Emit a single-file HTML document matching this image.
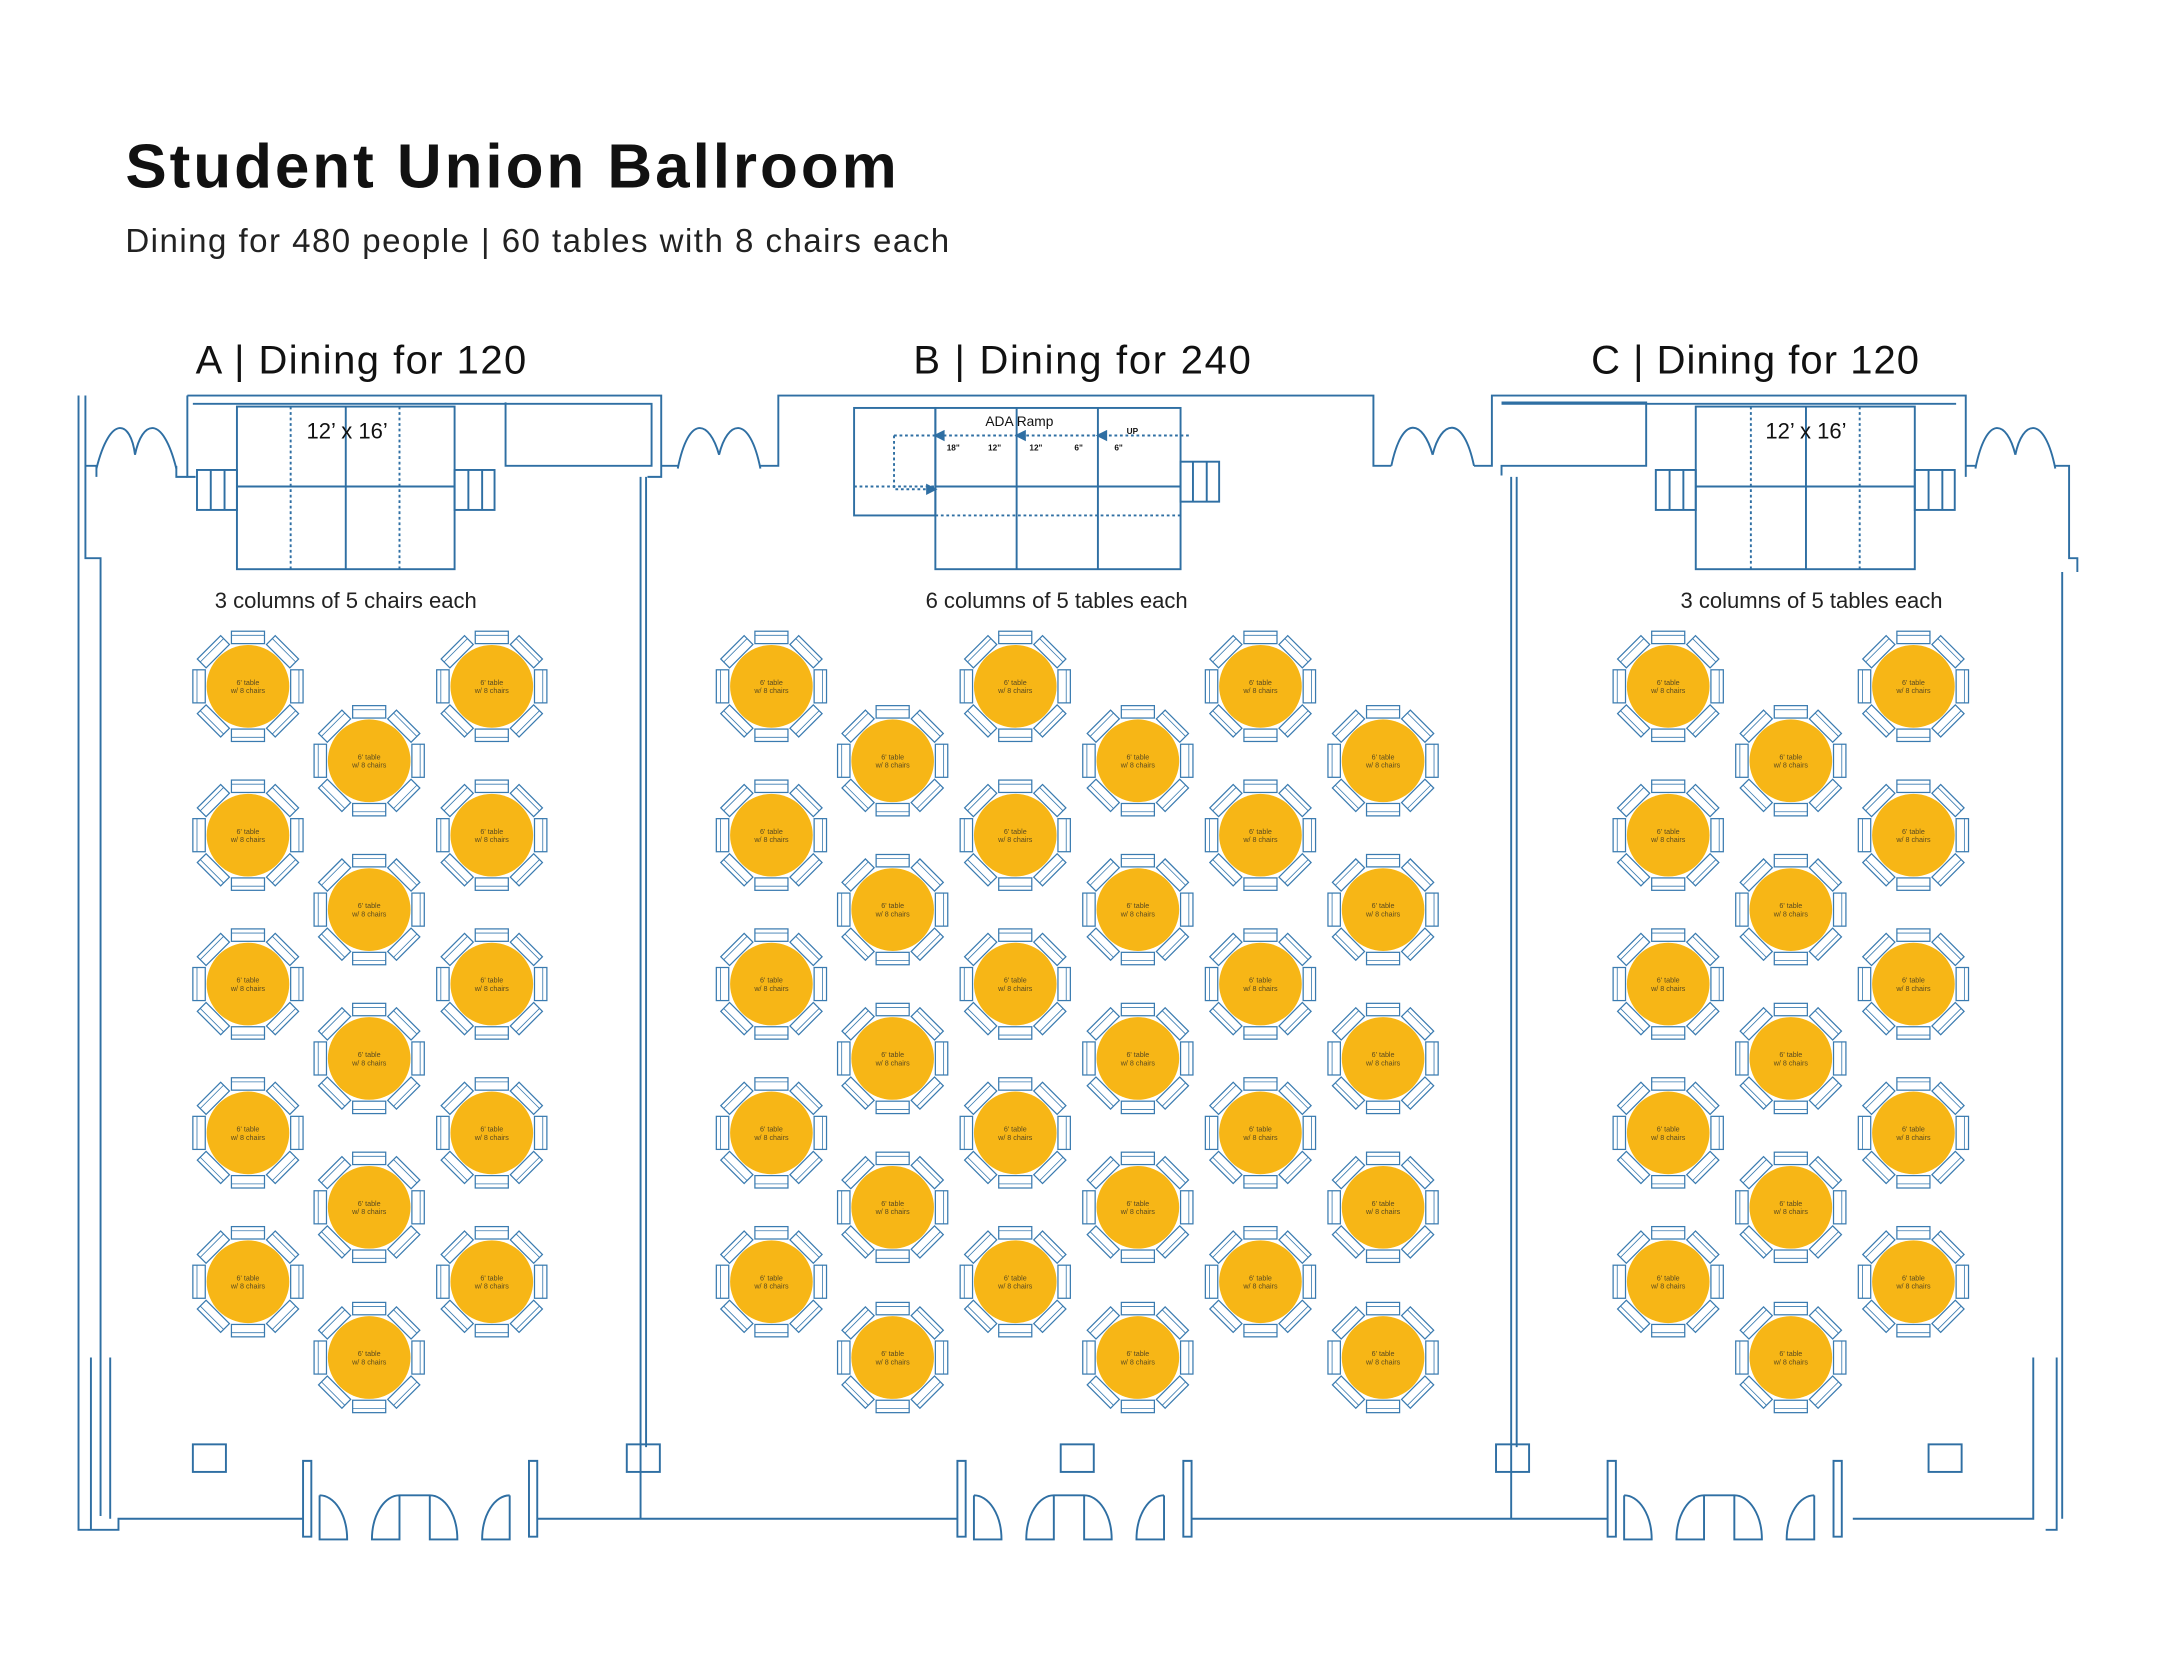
<!DOCTYPE html>
<html><head><meta charset="utf-8"><style>
html,body{margin:0;padding:0;background:#fff;}
svg{display:block;}
.w{fill:none;stroke:#2f6fa3;stroke-width:1.4;}
.t text{font-family:"Liberation Sans",sans-serif;font-size:5.2px;fill:#5a4a20;text-anchor:middle;}
</style></head><body>
<svg width="2160" height="1669" viewBox="0 0 1568 1211" preserveAspectRatio="none" xmlns="http://www.w3.org/2000/svg">
<defs>
<g id="ch"><rect x="-12" y="-40" width="24" height="9" fill="#fff" stroke="#3a7bb0" stroke-width="0.9"/><line x1="-12" y1="-37" x2="12" y2="-37" stroke="#3a7bb0" stroke-width="0.6"/></g>
<g id="tb">
<use href="#ch"/><use href="#ch" transform="rotate(45)"/><use href="#ch" transform="rotate(90)"/><use href="#ch" transform="rotate(135)"/>
<use href="#ch" transform="rotate(180)"/><use href="#ch" transform="rotate(225)"/><use href="#ch" transform="rotate(270)"/><use href="#ch" transform="rotate(315)"/>
<circle r="30" fill="#f7b616"/>
</g>
</defs>
<rect width="1568" height="1211" fill="#fff"/>
<text x="91" y="136" font-family="Liberation Sans,sans-serif" font-weight="bold" font-size="45" fill="#111" textLength="560">Student Union Ballroom</text>
<text x="91" y="183" font-family="Liberation Sans,sans-serif" font-size="24" fill="#222" textLength="598">Dining for 480 people | 60 tables with 8 chairs each</text>
<g font-family="Liberation Sans,sans-serif" font-size="29" fill="#111">
<text x="142" y="271" textLength="240">A | Dining for 120</text>
<text x="663" y="271" textLength="245">B | Dining for 240</text>
<text x="1155" y="271" textLength="238">C | Dining for 120</text>
</g>
<g font-family="Liberation Sans,sans-serif" font-size="16" fill="#222" text-anchor="middle">
<text x="251" y="441">3 columns of 5 chairs each</text>
<text x="767" y="441">6 columns of 5 tables each</text>
<text x="1315" y="441">3 columns of 5 tables each</text>
</g>
<g class="w">
<path d="M57 287 V1110 H86 V1102 H220"/>
<path d="M62 287 V405 H73 V1100"/>
<path d="M66 985 V1110 M80 985 V1102"/>
<path d="M62 338 H70 V346 M128 338 V346 H136"/>
<path d="M70 340 C80 300 95 305 98 330 M128 340 C118 300 103 305 98 330"/>
<path d="M136 287 H480 V346 H470 M140 293 H473 V338 H367 V292 M136 287 V346 H142"/>
<path d="M465 346 V1102"/><path d="M469 346 V1050"/>
<path d="M480 338 H492 M552 338 H565 V287 H997 V338 H1010"/>
<path d="M492 340 C500 300 515 305 522 330 M552 340 C544 300 528 305 522 330"/>
<path d="M1010 338 C1018 300 1033 305 1040 330 M1070 338 C1062 300 1046 305 1040 330"/>
<path d="M1070 338 H1083 V287 H1427 V346 M1090 293 H1420 M1090 292 H1195 V338 H1090 V345"/>
<path d="M1097 346 V1102 M1101 346 V1050"/>
<path d="M1427 338 H1434 M1492 338 H1502 V405 H1508 V415"/>
<path d="M1434 340 C1442 300 1457 305 1463 330 M1492 340 C1484 300 1468 305 1463 330"/>
<path d="M1497 415 V1102 M1493 985 V1110 H1485 M1476 985 V1102 H1345"/>
<path d="M390 1102 H695 M865 1102 H1167"/>
<path d="M220 1060 V1115 H226 V1060 Z M384 1060 V1115 H390 V1060 Z"/>
<path d="M232 1085 V1117 H252 A20 32 0 0 0 232 1085 M290 1085 V1117 H270 A20 32 0 0 1 290 1085 M290 1085 H312 M312 1085 V1117 H332 A20 32 0 0 0 312 1085 M370 1085 V1117 H350 A20 32 0 0 1 370 1085"/>
<path d="M695 1060 V1115 H701 V1060 Z M859 1060 V1115 H865 V1060 Z"/>
<path d="M707 1085 V1117 H727 A20 32 0 0 0 707 1085 M765 1085 V1117 H745 A20 32 0 0 1 765 1085 M765 1085 H787 M787 1085 V1117 H807 A20 32 0 0 0 787 1085 M845 1085 V1117 H825 A20 32 0 0 1 845 1085"/>
<path d="M1167 1060 V1115 H1173 V1060 Z M1331 1060 V1115 H1337 V1060 Z"/>
<path d="M1179 1085 V1117 H1199 A20 32 0 0 0 1179 1085 M1237 1085 V1117 H1217 A20 32 0 0 1 1237 1085 M1237 1085 H1259 M1259 1085 V1117 H1279 A20 32 0 0 0 1259 1085 M1317 1085 V1117 H1297 A20 32 0 0 1 1317 1085"/>
<rect x="140" y="1048" width="24" height="20"/><rect x="455" y="1048" width="24" height="20"/><rect x="770" y="1048" width="24" height="20"/><rect x="1086" y="1048" width="24" height="20"/><rect x="1400" y="1048" width="24" height="20"/>
<rect x="172" y="295" width="158" height="118"/><path d="M172 353 H330 M251 295 V413"/>
<path d="M211 295 V413 M290 295 V413" stroke-dasharray="2 2"/>
<rect x="143" y="341" width="29" height="29"/><path d="M153 341 V370 M163 341 V370"/>
<rect x="330" y="341" width="29" height="29"/><path d="M340 341 V370 M350 341 V370"/>
<rect x="620" y="296" width="59" height="78"/><rect x="679" y="296" width="178" height="117"/>
<path d="M738 296 V413 M797 296 V413 M679 353 H857"/>
<path d="M620 353 H679 M679 374 H857 M649 316 H865 M649 316 V355 H676" stroke-dasharray="2 2"/>
<path d="M679 316 l6 -3 v6z M738 316 l6 -3 v6z M797 316 l6 -3 v6z M679 355 l-6 -3 v6z" fill="#2f6fa3"/>
<rect x="857" y="335" width="28" height="29"/><path d="M866 335 V364 M876 335 V364"/>
<rect x="1231" y="295" width="159" height="118"/><path d="M1231 353 H1390 M1311 295 V413"/>
<path d="M1271 295 V413 M1350 295 V413" stroke-dasharray="2 2"/>
<rect x="1202" y="341" width="29" height="29"/><path d="M1212 341 V370 M1222 341 V370"/>
<rect x="1390" y="341" width="29" height="29"/><path d="M1400 341 V370 M1410 341 V370"/>
</g>
<g font-family="Liberation Sans,sans-serif" fill="#111" text-anchor="middle">
<text x="252" y="318" font-size="16">12’ x 16’</text>
<text x="1311" y="318" font-size="16">12’ x 16’</text>
<text x="740" y="309" font-size="10">ADA Ramp</text>
<g font-size="6" font-weight="bold"><text x="692" y="327">18"</text><text x="722" y="327">12"</text><text x="752" y="327">12"</text><text x="783" y="327">6"</text><text x="812" y="327">6"</text><text x="822" y="315">UP</text></g>
</g>
<g class="t">
<g transform="translate(180,498)"><use href="#tb"/><text y="-1">6' table</text><text y="5">w/ 8 chairs</text></g>
<g transform="translate(180,606)"><use href="#tb"/><text y="-1">6' table</text><text y="5">w/ 8 chairs</text></g>
<g transform="translate(180,714)"><use href="#tb"/><text y="-1">6' table</text><text y="5">w/ 8 chairs</text></g>
<g transform="translate(180,822)"><use href="#tb"/><text y="-1">6' table</text><text y="5">w/ 8 chairs</text></g>
<g transform="translate(180,930)"><use href="#tb"/><text y="-1">6' table</text><text y="5">w/ 8 chairs</text></g>
<g transform="translate(357,498)"><use href="#tb"/><text y="-1">6' table</text><text y="5">w/ 8 chairs</text></g>
<g transform="translate(357,606)"><use href="#tb"/><text y="-1">6' table</text><text y="5">w/ 8 chairs</text></g>
<g transform="translate(357,714)"><use href="#tb"/><text y="-1">6' table</text><text y="5">w/ 8 chairs</text></g>
<g transform="translate(357,822)"><use href="#tb"/><text y="-1">6' table</text><text y="5">w/ 8 chairs</text></g>
<g transform="translate(357,930)"><use href="#tb"/><text y="-1">6' table</text><text y="5">w/ 8 chairs</text></g>
<g transform="translate(268,552)"><use href="#tb"/><text y="-1">6' table</text><text y="5">w/ 8 chairs</text></g>
<g transform="translate(268,660)"><use href="#tb"/><text y="-1">6' table</text><text y="5">w/ 8 chairs</text></g>
<g transform="translate(268,768)"><use href="#tb"/><text y="-1">6' table</text><text y="5">w/ 8 chairs</text></g>
<g transform="translate(268,876)"><use href="#tb"/><text y="-1">6' table</text><text y="5">w/ 8 chairs</text></g>
<g transform="translate(268,985)"><use href="#tb"/><text y="-1">6' table</text><text y="5">w/ 8 chairs</text></g>
<g transform="translate(560,498)"><use href="#tb"/><text y="-1">6' table</text><text y="5">w/ 8 chairs</text></g>
<g transform="translate(560,606)"><use href="#tb"/><text y="-1">6' table</text><text y="5">w/ 8 chairs</text></g>
<g transform="translate(560,714)"><use href="#tb"/><text y="-1">6' table</text><text y="5">w/ 8 chairs</text></g>
<g transform="translate(560,822)"><use href="#tb"/><text y="-1">6' table</text><text y="5">w/ 8 chairs</text></g>
<g transform="translate(560,930)"><use href="#tb"/><text y="-1">6' table</text><text y="5">w/ 8 chairs</text></g>
<g transform="translate(737,498)"><use href="#tb"/><text y="-1">6' table</text><text y="5">w/ 8 chairs</text></g>
<g transform="translate(737,606)"><use href="#tb"/><text y="-1">6' table</text><text y="5">w/ 8 chairs</text></g>
<g transform="translate(737,714)"><use href="#tb"/><text y="-1">6' table</text><text y="5">w/ 8 chairs</text></g>
<g transform="translate(737,822)"><use href="#tb"/><text y="-1">6' table</text><text y="5">w/ 8 chairs</text></g>
<g transform="translate(737,930)"><use href="#tb"/><text y="-1">6' table</text><text y="5">w/ 8 chairs</text></g>
<g transform="translate(915,498)"><use href="#tb"/><text y="-1">6' table</text><text y="5">w/ 8 chairs</text></g>
<g transform="translate(915,606)"><use href="#tb"/><text y="-1">6' table</text><text y="5">w/ 8 chairs</text></g>
<g transform="translate(915,714)"><use href="#tb"/><text y="-1">6' table</text><text y="5">w/ 8 chairs</text></g>
<g transform="translate(915,822)"><use href="#tb"/><text y="-1">6' table</text><text y="5">w/ 8 chairs</text></g>
<g transform="translate(915,930)"><use href="#tb"/><text y="-1">6' table</text><text y="5">w/ 8 chairs</text></g>
<g transform="translate(648,552)"><use href="#tb"/><text y="-1">6' table</text><text y="5">w/ 8 chairs</text></g>
<g transform="translate(648,660)"><use href="#tb"/><text y="-1">6' table</text><text y="5">w/ 8 chairs</text></g>
<g transform="translate(648,768)"><use href="#tb"/><text y="-1">6' table</text><text y="5">w/ 8 chairs</text></g>
<g transform="translate(648,876)"><use href="#tb"/><text y="-1">6' table</text><text y="5">w/ 8 chairs</text></g>
<g transform="translate(648,985)"><use href="#tb"/><text y="-1">6' table</text><text y="5">w/ 8 chairs</text></g>
<g transform="translate(826,552)"><use href="#tb"/><text y="-1">6' table</text><text y="5">w/ 8 chairs</text></g>
<g transform="translate(826,660)"><use href="#tb"/><text y="-1">6' table</text><text y="5">w/ 8 chairs</text></g>
<g transform="translate(826,768)"><use href="#tb"/><text y="-1">6' table</text><text y="5">w/ 8 chairs</text></g>
<g transform="translate(826,876)"><use href="#tb"/><text y="-1">6' table</text><text y="5">w/ 8 chairs</text></g>
<g transform="translate(826,985)"><use href="#tb"/><text y="-1">6' table</text><text y="5">w/ 8 chairs</text></g>
<g transform="translate(1004,552)"><use href="#tb"/><text y="-1">6' table</text><text y="5">w/ 8 chairs</text></g>
<g transform="translate(1004,660)"><use href="#tb"/><text y="-1">6' table</text><text y="5">w/ 8 chairs</text></g>
<g transform="translate(1004,768)"><use href="#tb"/><text y="-1">6' table</text><text y="5">w/ 8 chairs</text></g>
<g transform="translate(1004,876)"><use href="#tb"/><text y="-1">6' table</text><text y="5">w/ 8 chairs</text></g>
<g transform="translate(1004,985)"><use href="#tb"/><text y="-1">6' table</text><text y="5">w/ 8 chairs</text></g>
<g transform="translate(1211,498)"><use href="#tb"/><text y="-1">6' table</text><text y="5">w/ 8 chairs</text></g>
<g transform="translate(1211,606)"><use href="#tb"/><text y="-1">6' table</text><text y="5">w/ 8 chairs</text></g>
<g transform="translate(1211,714)"><use href="#tb"/><text y="-1">6' table</text><text y="5">w/ 8 chairs</text></g>
<g transform="translate(1211,822)"><use href="#tb"/><text y="-1">6' table</text><text y="5">w/ 8 chairs</text></g>
<g transform="translate(1211,930)"><use href="#tb"/><text y="-1">6' table</text><text y="5">w/ 8 chairs</text></g>
<g transform="translate(1389,498)"><use href="#tb"/><text y="-1">6' table</text><text y="5">w/ 8 chairs</text></g>
<g transform="translate(1389,606)"><use href="#tb"/><text y="-1">6' table</text><text y="5">w/ 8 chairs</text></g>
<g transform="translate(1389,714)"><use href="#tb"/><text y="-1">6' table</text><text y="5">w/ 8 chairs</text></g>
<g transform="translate(1389,822)"><use href="#tb"/><text y="-1">6' table</text><text y="5">w/ 8 chairs</text></g>
<g transform="translate(1389,930)"><use href="#tb"/><text y="-1">6' table</text><text y="5">w/ 8 chairs</text></g>
<g transform="translate(1300,552)"><use href="#tb"/><text y="-1">6' table</text><text y="5">w/ 8 chairs</text></g>
<g transform="translate(1300,660)"><use href="#tb"/><text y="-1">6' table</text><text y="5">w/ 8 chairs</text></g>
<g transform="translate(1300,768)"><use href="#tb"/><text y="-1">6' table</text><text y="5">w/ 8 chairs</text></g>
<g transform="translate(1300,876)"><use href="#tb"/><text y="-1">6' table</text><text y="5">w/ 8 chairs</text></g>
<g transform="translate(1300,985)"><use href="#tb"/><text y="-1">6' table</text><text y="5">w/ 8 chairs</text></g>
</g>
</svg>
</body></html>
